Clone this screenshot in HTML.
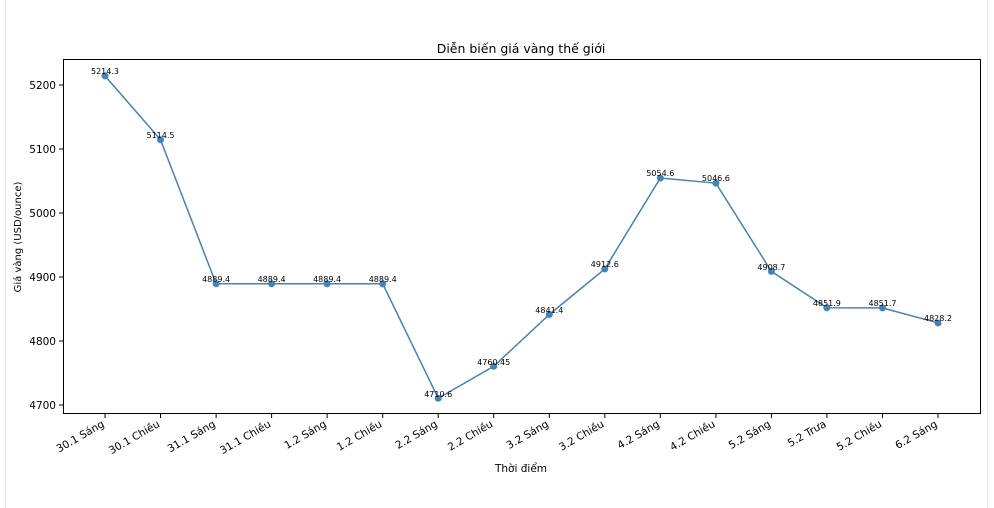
<!DOCTYPE html>
<html><head><meta charset="utf-8"><style>body{margin:0;background:#fff}svg{display:block;font-family:"DejaVu Sans","Liberation Sans",sans-serif}</style></head>
<body>
<svg width="994" height="508" viewBox="0 0 994 508" xmlns="http://www.w3.org/2000/svg">
<rect width="994" height="508" fill="#fff"/>
<line x1="5.5" y1="0" x2="5.5" y2="508" stroke="#e6e6e6"/>
<line x1="987.5" y1="0" x2="987.5" y2="508" stroke="#e6e6e6"/>
<text x="521" y="53" font-size="12.5" text-anchor="middle">Diễn biến giá vàng thế giới</text>
<rect x="63.5" y="59.5" width="917" height="354" fill="none" stroke="#000" stroke-width="1"/>
<g font-size="10.5" text-anchor="end">
<line x1="59" y1="85" x2="63" y2="85" stroke="#000"/><text x="56" y="89">5200</text>
<line x1="59" y1="149" x2="63" y2="149" stroke="#000"/><text x="56" y="153">5100</text>
<line x1="59" y1="213" x2="63" y2="213" stroke="#000"/><text x="56" y="217">5000</text>
<line x1="59" y1="277" x2="63" y2="277" stroke="#000"/><text x="56" y="281">4900</text>
<line x1="59" y1="341" x2="63" y2="341" stroke="#000"/><text x="56" y="345">4800</text>
<line x1="59" y1="405" x2="63" y2="405" stroke="#000"/><text x="56" y="409">4700</text>
</g>
<text transform="translate(21,237) rotate(-90)" font-size="10" text-anchor="middle">Giá vàng (USD/ounce)</text>
<text x="521" y="472" font-size="10.5" text-anchor="middle">Thời điểm</text>
<g font-size="10.5" text-anchor="end">
<g transform="translate(105,414)"><line y2="4" stroke="#000"/><text transform="translate(0,12) rotate(-30)">30.1 Sáng</text></g>
<g transform="translate(160.5,414)"><line y2="4" stroke="#000"/><text transform="translate(0,12) rotate(-30)">30.1 Chiều</text></g>
<g transform="translate(216.1,414)"><line y2="4" stroke="#000"/><text transform="translate(0,12) rotate(-30)">31.1 Sáng</text></g>
<g transform="translate(271.6,414)"><line y2="4" stroke="#000"/><text transform="translate(0,12) rotate(-30)">31.1 Chiều</text></g>
<g transform="translate(327.1,414)"><line y2="4" stroke="#000"/><text transform="translate(0,12) rotate(-30)">1.2 Sáng</text></g>
<g transform="translate(382.7,414)"><line y2="4" stroke="#000"/><text transform="translate(0,12) rotate(-30)">1.2 Chiều</text></g>
<g transform="translate(438.2,414)"><line y2="4" stroke="#000"/><text transform="translate(0,12) rotate(-30)">2.2 Sáng</text></g>
<g transform="translate(493.7,414)"><line y2="4" stroke="#000"/><text transform="translate(0,12) rotate(-30)">2.2 Chiều</text></g>
<g transform="translate(549.3,414)"><line y2="4" stroke="#000"/><text transform="translate(0,12) rotate(-30)">3.2 Sáng</text></g>
<g transform="translate(604.8,414)"><line y2="4" stroke="#000"/><text transform="translate(0,12) rotate(-30)">3.2 Chiều</text></g>
<g transform="translate(660.3,414)"><line y2="4" stroke="#000"/><text transform="translate(0,12) rotate(-30)">4.2 Sáng</text></g>
<g transform="translate(715.9,414)"><line y2="4" stroke="#000"/><text transform="translate(0,12) rotate(-30)">4.2 Chiều</text></g>
<g transform="translate(771.4,414)"><line y2="4" stroke="#000"/><text transform="translate(0,12) rotate(-30)">5.2 Sáng</text></g>
<g transform="translate(826.9,414)"><line y2="4" stroke="#000"/><text transform="translate(0,12) rotate(-30)">5.2 Trưa</text></g>
<g transform="translate(882.5,414)"><line y2="4" stroke="#000"/><text transform="translate(0,12) rotate(-30)">5.2 Chiều</text></g>
<g transform="translate(938,414)"><line y2="4" stroke="#000"/><text transform="translate(0,12) rotate(-30)">6.2 Sáng</text></g>
</g>
<polyline fill="none" stroke="#4682b4" stroke-width="1.5" points="105,75.85 160.5,139.72 216.1,283.78 271.6,283.78 327.1,283.78 382.7,283.78 438.2,398.22 493.7,366.31 549.3,314.5 604.8,268.94 660.3,178.06 715.9,183.18 771.4,271.43 826.9,307.78 882.5,307.91 938,322.95"/>
<g fill="#4682b4">
<circle cx="105" cy="75.85" r="3.5"/><circle cx="160.5" cy="139.72" r="3.5"/><circle cx="216.1" cy="283.78" r="3.5"/><circle cx="271.6" cy="283.78" r="3.5"/><circle cx="327.1" cy="283.78" r="3.5"/><circle cx="382.7" cy="283.78" r="3.5"/><circle cx="438.2" cy="398.22" r="3.5"/><circle cx="493.7" cy="366.31" r="3.5"/><circle cx="549.3" cy="314.5" r="3.5"/><circle cx="604.8" cy="268.94" r="3.5"/><circle cx="660.3" cy="178.06" r="3.5"/><circle cx="715.9" cy="183.18" r="3.5"/><circle cx="771.4" cy="271.43" r="3.5"/><circle cx="826.9" cy="307.78" r="3.5"/><circle cx="882.5" cy="307.91" r="3.5"/><circle cx="938" cy="322.95" r="3.5"/>
</g>
<g font-size="8" text-anchor="middle" fill="#000">
<text x="105" y="74">5214.3</text><text x="160.5" y="138">5114.5</text><text x="216.1" y="282">4889.4</text><text x="271.6" y="282">4889.4</text><text x="327.1" y="282">4889.4</text><text x="382.7" y="282">4889.4</text><text x="438.2" y="397">4710.6</text><text x="493.7" y="365">4760.45</text><text x="549.3" y="313">4841.4</text><text x="604.8" y="267">4912.6</text><text x="660.3" y="176">5054.6</text><text x="715.9" y="181">5046.6</text><text x="771.4" y="270">4908.7</text><text x="826.9" y="306">4851.9</text><text x="882.5" y="306">4851.7</text><text x="938" y="321">4828.2</text>
</g>
</svg>
</body></html>
